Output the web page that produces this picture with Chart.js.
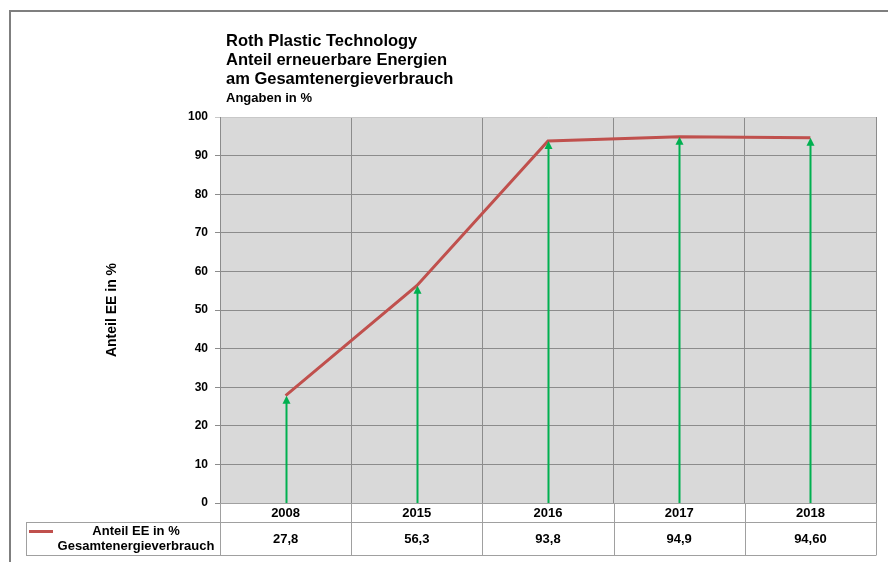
<!DOCTYPE html>
<html>
<head>
<meta charset="utf-8">
<script src="https://cdn.jsdelivr.net/npm/chart.js@4"></script>
<style>
  html, body { margin: 0; padding: 0; background: #fff; }
  #wrap { width: 888px; height: 562px; }
</style>
</head>
<body>
<div id="wrap"><canvas id="eeChart" width="888" height="562"></canvas></div>
<script>
const years = ['2008', '2015', '2016', '2017', '2018'];
const shareEE = [27.8, 56.3, 93.8, 94.9, 94.6];
const shareLabels = ['27,8', '56,3', '93,8', '94,9', '94,60'];
const titleLines = ['Roth Plastic Technology', 'Anteil erneuerbare Energien', 'am Gesamtenergieverbrauch'];
const subTitle = 'Angaben in %';
const seriesName = ['Anteil EE in %', 'Gesamtenergieverbrauch'];

const colors = {
    line: '#c0504d',
    arrow: '#00b050',
    plotBg: '#d9d9d9',
    grid: '#8c8c8c',
    gridLight: '#c8c8c8',
    table: '#a0a0a0',
    frame: '#7f7f7f',
    text: '#000'
};
const FONT = '"Liberation Sans", Arial, sans-serif';

// grey plot background, outer frame, title, table and arrows
const decorations = {
    id: 'decorations',
    beforeDraw(chart) {
        const { ctx, chartArea: a } = chart;
        ctx.save();
        ctx.fillStyle = colors.plotBg;
        ctx.fillRect(a.left, a.top, a.right - a.left, a.bottom - a.top);
        ctx.restore();
    },
    afterDatasetsDraw(chart) {
        const { ctx } = chart;
        const xs = chart.scales.x, ys = chart.scales.y;
        const y0 = ys.getPixelForValue(0);
        ctx.save();
        ctx.strokeStyle = colors.arrow;
        ctx.fillStyle = colors.arrow;
        ctx.lineWidth = 2;
        shareEE.forEach((v, i) => {
            const x = Math.round(xs.getPixelForValue(i)) + 0.5;
            const y1 = ys.getPixelForValue(v);
            ctx.beginPath();
            ctx.moveTo(x, y0);
            ctx.lineTo(x, y1 + 6);
            ctx.stroke();
            ctx.beginPath();
            ctx.moveTo(x, y1);
            ctx.lineTo(x - 4, y1 + 8);
            ctx.lineTo(x + 4, y1 + 8);
            ctx.closePath();
            ctx.fill();
        });
        ctx.restore();
    },
    afterDraw(chart) {
        const { ctx, chartArea: a } = chart;
        const xs = chart.scales.x;
        ctx.save();

        // outer frame (top and left only are visible)
        ctx.strokeStyle = colors.frame;
        ctx.lineWidth = 2;
        ctx.beginPath();
        ctx.moveTo(10, 562);
        ctx.lineTo(10, 11);
        ctx.lineTo(888, 11);
        ctx.stroke();

        // header text
        ctx.fillStyle = colors.text;
        ctx.textAlign = 'left';
        ctx.textBaseline = 'middle';
        ctx.font = 'bold 16.5px ' + FONT;
        titleLines.forEach((t, i) => ctx.fillText(t, 226, 41 + i * 19));
        ctx.font = 'bold 13px ' + FONT;
        ctx.fillText(subTitle, 226, 98);

        // data table
        const rowTop = a.bottom, rowMid = 522.5, rowBot = 555.5;
        ctx.strokeStyle = colors.table;
        ctx.lineWidth = 1;
        ctx.beginPath();
        ctx.moveTo(26, rowMid); ctx.lineTo(a.right, rowMid);
        ctx.moveTo(26, rowBot); ctx.lineTo(a.right, rowBot);
        ctx.moveTo(26.5, rowMid); ctx.lineTo(26.5, rowBot);
        const half = (xs.getPixelForValue(1) - xs.getPixelForValue(0)) / 2;
        for (let i = 0; i <= years.length; i++) {
            const x = Math.round(xs.getPixelForValue(i) - half) + 0.5;
            ctx.moveTo(x, rowTop);
            ctx.lineTo(x, rowBot);
        }
        ctx.stroke();

        // legend key in the table
        const ds = chart.data.datasets[0];
        ctx.strokeStyle = ds.borderColor;
        ctx.lineWidth = 3;
        ctx.beginPath();
        ctx.moveTo(29, 531.5);
        ctx.lineTo(53, 531.5);
        ctx.stroke();
        ctx.fillStyle = colors.text;
        ctx.font = 'bold 13px ' + FONT;
        ctx.textAlign = 'center';
        ctx.fillText(seriesName[0], 136, 531);
        ctx.fillText(seriesName[1], 136, 546);

        // values row
        shareLabels.forEach((s, i) => ctx.fillText(s, xs.getPixelForValue(i), 539));
        ctx.restore();
    }
};

new Chart(document.getElementById('eeChart').getContext('2d'), {
    type: 'line',
    data: {
        labels: years,
        datasets: [{
            label: seriesName.join(' '),
            data: shareEE,
            borderColor: colors.line,
            borderWidth: 3,
            fill: false,
            tension: 0,
            pointRadius: 0
        }]
    },
    options: {
        responsive: false,
        animation: false,
        layout: { padding: { left: 104, top: 117, right: 12, bottom: 7 } },
        plugins: { legend: { display: false }, title: { display: false }, tooltip: { enabled: false } },
        scales: {
            x: {
                offset: true,
                grid: {
                    offset: true,
                    drawTicks: false,
                    color: ctx => ctx.index === years.length ? colors.gridLight : colors.grid
                },
                border: { color: colors.table },
                ticks: { color: colors.text, padding: 3, font: { family: FONT, size: 13, weight: 'bold' }, maxRotation: 0 },
                afterFit: s => { s.height = 52; }
            },
            y: {
                min: 0,
                max: 100,
                grid: {
                    tickLength: 5,
                    color: ctx => ctx.tick && ctx.tick.value === 100 ? colors.gridLight : colors.grid
                },
                border: { color: colors.grid },
                ticks: { stepSize: 10, color: colors.text, padding: 7, font: { family: FONT, size: 12, weight: 'bold' } },
                title: {
                    display: true,
                    text: 'Anteil EE in %',
                    color: colors.text,
                    padding: { top: 0, bottom: 0 },
                    font: { family: FONT, size: 14, weight: 'bold' }
                },
                afterFit: s => { s.width = 116; }
            }
        }
    },
    plugins: [decorations]
});
</script>
</body>
</html>
